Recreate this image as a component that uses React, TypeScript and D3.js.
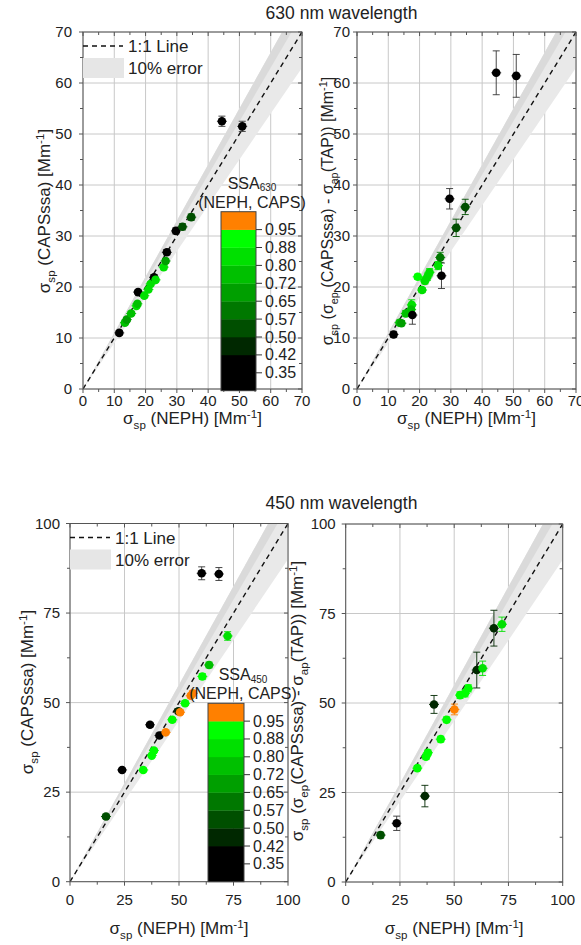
import React from 'react';
import * as d3 from 'd3';

// ---------- SSA colour scale ----------
const ssaThresholds = [0.425, 0.5, 0.575, 0.65, 0.725, 0.8, 0.875, 0.95];
const ssaColors = ['#000000', '#002800', '#004f00', '#007800', '#009f00', '#00c000', '#00e000', '#00ff00', '#ff8000'];
const ssaBandEdges = [0.275, 0.425, 0.5, 0.575, 0.65, 0.725, 0.8, 0.875, 0.95, 1.025];
const ssaTickValues = [0.95, 0.875, 0.8, 0.725, 0.65, 0.575, 0.5, 0.425, 0.35];
const ssaTickLabels = ['0.95', '0.88', '0.80', '0.72', '0.65', '0.57', '0.50', '0.42', '0.35'];

// ---------- 630 nm, CAPSssa vs NEPH ----------
const x630a = [11.6, 13.4, 14.0, 15.4, 17.1, 17.4, 17.6, 19.6, 20.9, 21.6, 22.7, 23.2, 25.8, 26.4, 26.8, 29.7, 31.8, 34.6, 44.4, 50.9];
const y630a = [11.0, 13.0, 13.6, 14.8, 16.3, 16.7, 19.0, 18.3, 19.5, 20.6, 21.9, 21.4, 23.9, 25.1, 26.8, 31.0, 31.8, 33.7, 52.5, 51.5];
const e630a = [0.4, 0.4, 0.4, 0.4, 0.4, 0.4, 0.4, 0.4, 0.4, 0.4, 0.5, 0.4, 0.5, 0.5, 0.5, 0.6, 0.6, 0.6, 1.0, 1.0];
const ssa630 = [0.36, 0.74, 0.7, 0.76, 0.82, 0.78, 0.36, 0.84, 0.82, 0.86, 0.38, 0.84, 0.8, 0.66, 0.37, 0.36, 0.55, 0.55, 0.3, 0.3];

// ---------- 630 nm, CAPSssa - TAP vs NEPH ----------
const x630b = [11.7, 13.6, 14.2, 15.6, 17.5, 17.3, 17.7, 19.4, 20.8, 21.7, 22.5, 23.2, 25.9, 26.6, 27.0, 29.6, 31.7, 34.6, 44.5, 50.9];
const y630b = [10.7, 13.0, 12.9, 14.8, 16.5, 15.6, 14.5, 22.0, 19.4, 21.2, 22.0, 22.9, 24.2, 25.8, 22.2, 37.3, 31.6, 35.7, 62.0, 61.4];
const e630b = [0.6, 0.5, 0.5, 0.6, 1.0, 0.8, 1.8, 0.5, 0.5, 0.6, 0.7, 0.7, 0.8, 1.0, 2.5, 2.0, 1.7, 1.5, 4.3, 4.2];
const ssa630b = [0.36, 0.74, 0.7, 0.76, 0.82, 0.78, 0.36, 0.9, 0.86, 0.82, 0.8, 0.8, 0.82, 0.62, 0.37, 0.36, 0.55, 0.55, 0.3, 0.3];

// ---------- 450 nm, CAPSssa vs NEPH ----------
const x450a = [16.5, 23.9, 33.6, 37.5, 38.5, 36.7, 41.0, 43.9, 46.9, 49.7, 50.5, 52.8, 55.4, 56.3, 60.7, 63.8, 72.3, 60.4, 68.3];
const y450a = [18.2, 31.2, 31.2, 35.2, 36.6, 43.8, 40.8, 41.7, 45.2, 47.6, 47.3, 49.8, 51.9, 52.6, 57.3, 60.5, 68.6, 86.1, 85.9];
const e450a = [0.6, 0.5, 0.5, 0.5, 0.5, 0.6, 0.6, 0.5, 0.6, 0.6, 0.6, 0.6, 0.6, 0.6, 0.8, 0.8, 1.2, 1.8, 1.8];
const ssa450a = [0.55, 0.36, 0.92, 0.92, 0.9, 0.36, 0.36, 0.97, 0.9, 0.45, 0.97, 0.92, 0.97, 0.97, 0.92, 0.78, 0.82, 0.3, 0.3];

// ---------- 450 nm, CAPSssa - TAP vs NEPH ----------
const x450b = [16.1, 23.5, 33.0, 37.0, 37.9, 36.5, 43.8, 46.5, 40.7, 50.1, 52.7, 55.0, 56.5, 60.4, 63.1, 68.3, 72.0];
const y450b = [13.1, 16.4, 31.8, 35.0, 36.1, 24.0, 39.9, 45.3, 49.6, 48.2, 52.2, 52.7, 54.1, 59.2, 59.7, 70.9, 72.0];
const e450b = [0.8, 2.0, 0.7, 0.8, 0.8, 3.0, 0.8, 0.8, 2.5, 1.5, 0.9, 1.0, 1.0, 5.0, 2.0, 5.0, 2.0];
const ssa450b = [0.55, 0.36, 0.92, 0.92, 0.9, 0.45, 0.92, 0.9, 0.45, 0.97, 0.9, 0.9, 0.92, 0.45, 0.8, 0.45, 0.8];

const titles = ['630 nm wavelength', '450 nm wavelength'];

const FONT = '"Liberation Sans", Arial, Helvetica, sans-serif';

type Seg = { t: string; s?: 'sub' | 'sup' };

const xLabelSegs: Seg[] = [{ t: 'σ' }, { t: 'sp', s: 'sub' }, { t: ' (NEPH) [Mm' }, { t: '-1', s: 'sup' }, { t: ']' }];
const yLabelA: Seg[] = [{ t: 'σ' }, { t: 'sp', s: 'sub' }, { t: ' (CAPSssa) [Mm' }, { t: '-1', s: 'sup' }, { t: ']' }];
const yLabelB: Seg[] = [
  { t: 'σ' }, { t: 'sp', s: 'sub' }, { t: ' (σ' }, { t: 'ep', s: 'sub' }, { t: ' (CAPSssa) - σ' }, { t: 'ap', s: 'sub' },
  { t: '(TAP)) [Mm' }, { t: '-1', s: 'sup' }, { t: ']' },
];
const yLabelD: Seg[] = [
  { t: 'σ' }, { t: 'sp', s: 'sub' }, { t: ' (σ' }, { t: 'ep', s: 'sub' }, { t: '(CAPSssa) - σ' }, { t: 'ap', s: 'sub' },
  { t: '(TAP)) [Mm' }, { t: '-1', s: 'sup' }, { t: ']' },
];

function Rich({ segs, size }: { segs: Seg[]; size: number }) {
  const out: any[] = [];
  let shift = 0;
  const small = size * 0.68;
  segs.forEach((sg, i) => {
    const target = sg.s === 'sub' ? size * 0.3 : sg.s === 'sup' ? -size * 0.38 : 0;
    const dy = target - shift;
    shift = target;
    out.push(
      <tspan key={i} dy={dy} fontSize={sg.s ? small : size}>
        {sg.t}
      </tspan>
    );
  });
  return <>{out}</>;
}

const colorOf = d3.scaleThreshold<number, string>().domain(ssaThresholds).range(ssaColors);

type Cfg = {
  id: string;
  left: number; right: number; top: number; bottom: number;
  max: number; step: number;
  xs: number[]; ys: number[]; es: number[]; ssa: number[];
  yLabel: Seg[]; yLabelX: number; yLabelY: number; yLabelSize: number;
  xLabelY: number; xTickDy: number; yTickGap: number;
  legend?: boolean;
  colorbar?: { x0: number; x1: number; top: number; bottom: number; textX: number; wl: string };
};

function Panel({ c }: { c: Cfg }) {
  const x = d3.scaleLinear().domain([0, c.max]).range([c.left, c.right]);
  const y = d3.scaleLinear().domain([0, c.max]).range([c.bottom, c.top]);
  const majors = d3.range(0, c.max + 1e-6, c.step);
  const minors = d3.range(c.step / 2, c.max, c.step);
  const frame = '#555';
  const m = c.max;
  const band1 = `M${x(0)},${y(0)} L${x(m)},${y(1.1 * m)} L${x(m)},${y(0.9 * m)} Z`;
  const band2 = `M${x(0)},${y(0)} L${x(m)},${y(1.1 * m)} L${x(m)},${y(1.05 * m)} Z`;
  const idx = d3.range(c.xs.length);
  return (
    <g>
      <defs>
        <clipPath id={c.id}>
          <rect x={c.left} y={c.top} width={c.right - c.left} height={c.bottom - c.top} />
        </clipPath>
      </defs>
      {majors.map((v) => (
        <g key={'g' + v}>
          <line x1={x(v)} x2={x(v)} y1={c.top} y2={c.bottom} stroke="#c8c8c8" strokeWidth={1} />
          <line x1={c.left} x2={c.right} y1={y(v)} y2={y(v)} stroke="#c8c8c8" strokeWidth={1} />
        </g>
      ))}
      <g clipPath={`url(#${c.id})`}>
        <path d={band1} fill="#e9e9e9" />
        <path d={band2} fill="#dadada" />
        <line x1={x(0)} y1={y(0)} x2={x(m)} y2={y(m)} stroke="#111" strokeWidth={1.4} strokeDasharray="5,4" />
      </g>
      {idx.map((i) => {
        const col = colorOf(c.ssa[i]);
        const ec = col === '#000000' ? '#333' : col;
        const px = x(c.xs[i]);
        const y1 = y(c.ys[i] - c.es[i]);
        const y2 = y(c.ys[i] + c.es[i]);
        return (
          <g key={'e' + i} stroke={ec} strokeWidth={0.9}>
            <line x1={px} x2={px} y1={y1} y2={y2} />
            <line x1={px - 3.5} x2={px + 3.5} y1={y1} y2={y1} />
            <line x1={px - 3.5} x2={px + 3.5} y1={y2} y2={y2} />
            <line x1={px - 5} x2={px + 5} y1={y(c.ys[i])} y2={y(c.ys[i])} />
          </g>
        );
      })}
      {idx.map((i) => (
        <circle key={'p' + i} cx={x(c.xs[i])} cy={y(c.ys[i])} r={4.3} fill={colorOf(c.ssa[i])} />
      ))}
      <rect x={c.left} y={c.top} width={c.right - c.left} height={c.bottom - c.top} fill="none" stroke={frame} strokeWidth={1} />
      {majors.map((v) => (
        <g key={'t' + v} stroke={frame} strokeWidth={1}>
          <line x1={x(v)} x2={x(v)} y1={c.bottom} y2={c.bottom + 4} />
          <line x1={x(v)} x2={x(v)} y1={c.top} y2={c.top + 4} />
          <line x1={c.left - 4} x2={c.left} y1={y(v)} y2={y(v)} />
          <line x1={c.right - 4} x2={c.right} y1={y(v)} y2={y(v)} />
        </g>
      ))}
      {minors.map((v) => (
        <g key={'mt' + v} stroke={frame} strokeWidth={1}>
          <line x1={x(v)} x2={x(v)} y1={c.bottom} y2={c.bottom + 3} />
          <line x1={x(v)} x2={x(v)} y1={c.top} y2={c.top + 3} />
          <line x1={c.left - 3} x2={c.left} y1={y(v)} y2={y(v)} />
          <line x1={c.right - 3} x2={c.right} y1={y(v)} y2={y(v)} />
        </g>
      ))}
      {majors.map((v) => (
        <g key={'l' + v} fontSize={15} fill="#222">
          <text x={x(v)} y={c.bottom + c.xTickDy} textAnchor="middle">{v}</text>
          <text x={c.left - c.yTickGap} y={y(v) + 5} textAnchor="end">{v}</text>
        </g>
      ))}
      <text x={(c.left + c.right) / 2} y={c.xLabelY} textAnchor="middle" fill="#222">
        <Rich segs={xLabelSegs} size={17} />
      </text>
      <text transform={`translate(${c.yLabelX},${c.yLabelY}) rotate(-90)`} textAnchor="middle" fill="#222">
        <Rich segs={c.yLabel} size={c.yLabelSize} />
      </text>
      {c.legend && (
        <g>
          <line x1={c.left} x2={c.left + 40} y1={c.top + 14} y2={c.top + 14} stroke="#111" strokeWidth={1.4} strokeDasharray="5,4" />
          <text x={c.left + 45} y={c.top + 20} fontSize={17} fill="#222">1:1 Line</text>
          <rect x={c.left} y={c.top + 26} width={41} height={20} fill="#e6e6e6" />
          <text x={c.left + 45} y={c.top + 42} fontSize={17} fill="#222">10% error</text>
        </g>
      )}
      {c.colorbar && <ColorBar cb={c.colorbar} />}
    </g>
  );
}

function ColorBar({ cb }: { cb: NonNullable<Cfg['colorbar']> }) {
  const s = d3.scaleLinear().domain([ssaBandEdges[0], ssaBandEdges[ssaBandEdges.length - 1]]).range([cb.bottom, cb.top]);
  return (
    <g>
      <text x={cb.textX} y={cb.top - 23} textAnchor="middle" fill="#222" fontSize={16}>
        SSA<tspan dy={2.5} fontSize={10}>{cb.wl}</tspan>
      </text>
      <text x={cb.textX} y={cb.top - 4} textAnchor="middle" fill="#222" fontSize={16}>(NEPH, CAPS)</text>
      {ssaColors.map((col, i) => (
        <rect key={i} x={cb.x0} y={s(ssaBandEdges[i + 1])} width={cb.x1 - cb.x0}
          height={s(ssaBandEdges[i]) - s(ssaBandEdges[i + 1]) + 0.3} fill={col} />
      ))}
      <rect x={cb.x0} y={cb.top} width={cb.x1 - cb.x0} height={cb.bottom - cb.top} fill="none" stroke="#444" strokeWidth={1} />
      {ssaTickValues.map((v, i) => (
        <g key={i}>
          <line x1={cb.x1} x2={cb.x1 + 6} y1={s(v)} y2={s(v)} stroke="#333" strokeWidth={1} />
          <text x={cb.x1 + 9} y={s(v) + 5.5} fontSize={16} fill="#222">{ssaTickLabels[i]}</text>
        </g>
      ))}
    </g>
  );
}

export default function App() {
  const panels: Cfg[] = [
    {
      id: 'cA', left: 83, right: 302, top: 32, bottom: 389, max: 70, step: 10,
      xs: x630a, ys: y630a, es: e630a, ssa: ssa630,
      yLabel: yLabelA, yLabelX: 50, yLabelY: 211, yLabelSize: 17, xLabelY: 424, xTickDy: 17, yTickGap: 11, legend: true,
      colorbar: { x0: 221, x1: 256, top: 211.7, bottom: 390.7, textX: 252, wl: '630' },
    },
    {
      id: 'cB', left: 357, right: 576, top: 32, bottom: 389, max: 70, step: 10,
      xs: x630b, ys: y630b, es: e630b, ssa: ssa630b,
      yLabel: yLabelB, yLabelX: 333, yLabelY: 211, yLabelSize: 16, xLabelY: 424, xTickDy: 17, yTickGap: 7,
    },
    {
      id: 'cC', left: 70, right: 288, top: 523.5, bottom: 881.7, max: 100, step: 25,
      xs: x450a, ys: y450a, es: e450a, ssa: ssa450a,
      yLabel: yLabelA, yLabelX: 33, yLabelY: 692, yLabelSize: 17, xLabelY: 934, xTickDy: 23, yTickGap: 10, legend: true,
      colorbar: { x0: 208, x1: 244, top: 703.3, bottom: 881.7, textX: 243, wl: '450' },
    },
    {
      id: 'cD', left: 345.7, right: 562.7, top: 524, bottom: 882, max: 100, step: 25,
      xs: x450b, ys: y450b, es: e450b, ssa: ssa450b,
      yLabel: yLabelD, yLabelX: 303, yLabelY: 701, yLabelSize: 17, xLabelY: 934, xTickDy: 23, yTickGap: 10,
    },
  ];
  return (
    <svg width={581} height={945} style={{ position: 'absolute', left: 0, top: 0, background: '#fff' }}
      fontFamily={FONT}>
      <rect width={581} height={945} fill="#fff" />
      <text x={341.5} y={18.7} textAnchor="middle" fontSize={17.5} fill="#222">{titles[0]}</text>
      <text x={341.5} y={509.3} textAnchor="middle" fontSize={17.5} fill="#222">{titles[1]}</text>
      {panels.map((p) => <Panel key={p.id} c={p} />)}
    </svg>
  );
}
